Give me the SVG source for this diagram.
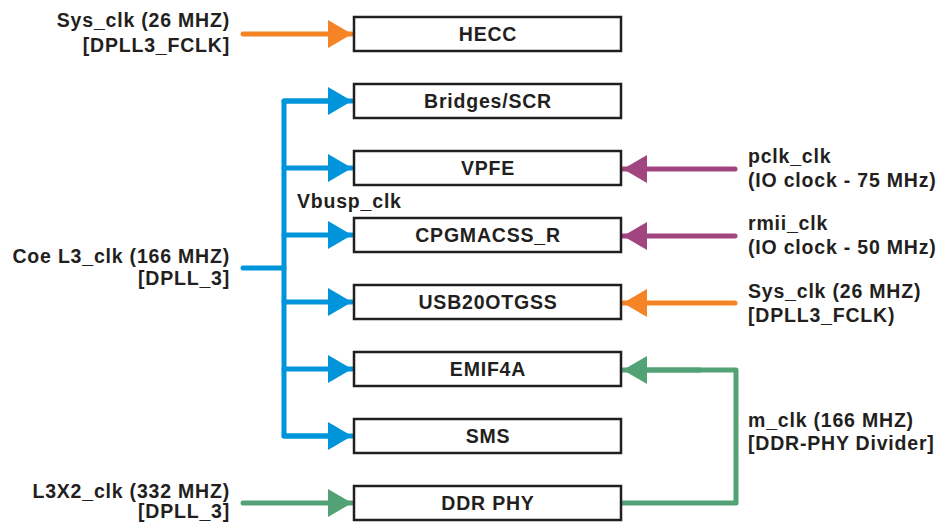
<svg xmlns="http://www.w3.org/2000/svg" width="940" height="523" viewBox="0 0 940 523">
<style>
text{font-family:"Liberation Sans",Arial,sans-serif;font-weight:bold;font-size:19.5px;letter-spacing:0.8px;fill:#231f20}
.box{fill:#fff;stroke:#231f20;stroke-width:2.5}
.lbl{text-anchor:middle}
.r{text-anchor:end}
.ln{fill:none;stroke-width:5;stroke-linecap:round;stroke-linejoin:round}
.blue{stroke:#0095da}
.orange{stroke:#f58426}
.purple{stroke:#a2447f}
.green{stroke:#52a275}
</style>
<defs>
<marker id="ab" markerUnits="userSpaceOnUse" markerWidth="24" markerHeight="28" refX="24" refY="14" orient="auto"><path d="M0,0 L24,14 L0,28 Z" fill="#0095da"/></marker>
<marker id="ao" markerUnits="userSpaceOnUse" markerWidth="24" markerHeight="28" refX="24" refY="14" orient="auto"><path d="M0,0 L24,14 L0,28 Z" fill="#f58426"/></marker>
<marker id="ap" markerUnits="userSpaceOnUse" markerWidth="24" markerHeight="28" refX="24" refY="14" orient="auto"><path d="M0,0 L24,14 L0,28 Z" fill="#a2447f"/></marker>
<marker id="ag" markerUnits="userSpaceOnUse" markerWidth="24" markerHeight="28" refX="24" refY="14" orient="auto"><path d="M0,0 L24,14 L0,28 Z" fill="#52a275"/></marker>
</defs>

<g id="connectors">
<line class="ln orange" x1="243" y1="34" x2="352" y2="34" marker-end="url(#ao)"/>
<line class="ln blue" x1="243" y1="268" x2="284" y2="268"/>
<path class="ln blue" d="M330,101 H284 V436 H330"/>
<line class="ln blue" x1="284" y1="101" x2="352" y2="101" marker-end="url(#ab)"/>
<line class="ln blue" x1="284" y1="168" x2="352" y2="168" marker-end="url(#ab)"/>
<line class="ln blue" x1="284" y1="235" x2="352" y2="235" marker-end="url(#ab)"/>
<line class="ln blue" x1="284" y1="302" x2="352" y2="302" marker-end="url(#ab)"/>
<line class="ln blue" x1="284" y1="369" x2="352" y2="369" marker-end="url(#ab)"/>
<line class="ln blue" x1="284" y1="436" x2="352" y2="436" marker-end="url(#ab)"/>
<line class="ln purple" x1="735" y1="169" x2="623" y2="169" marker-end="url(#ap)"/>
<line class="ln purple" x1="735" y1="236" x2="623" y2="236" marker-end="url(#ap)"/>
<line class="ln orange" x1="735" y1="303" x2="623" y2="303" marker-end="url(#ao)"/>
<line class="ln green" x1="243" y1="503" x2="352" y2="503" marker-end="url(#ag)"/>
<path class="ln green" d="M622,503 H736 V370 H640"/>
<line class="ln green" x1="700" y1="370" x2="623" y2="370" marker-end="url(#ag)"/>
</g>

<g id="hecc"><rect class="box" x="354" y="17" width="267" height="34"/><text class="lbl" x="488" y="41">HECC</text></g>
<g id="bridges"><rect class="box" x="354" y="84" width="267" height="34"/><text class="lbl" x="488" y="108">Bridges/SCR</text></g>
<g id="vpfe"><rect class="box" x="354" y="151" width="267" height="34"/><text class="lbl" x="488" y="175">VPFE</text></g>
<g id="cpgmacss"><rect class="box" x="354" y="218" width="267" height="34"/><text class="lbl" x="488" y="242">CPGMACSS_R</text></g>
<g id="usb"><rect class="box" x="354" y="285" width="267" height="34"/><text class="lbl" x="488" y="309">USB20OTGSS</text></g>
<g id="emif"><rect class="box" x="354" y="352" width="267" height="34"/><text class="lbl" x="488" y="376">EMIF4A</text></g>
<g id="sms"><rect class="box" x="354" y="419" width="267" height="34"/><text class="lbl" x="488" y="443">SMS</text></g>
<g id="ddrphy"><rect class="box" x="354" y="486" width="267" height="34"/><text class="lbl" x="488" y="510">DDR PHY</text></g>

<g id="labels">
<text class="r" x="230" y="27">Sys_clk (26 MHZ)</text>
<text class="r" x="230" y="52">[DPLL3_FCLK]</text>
<text class="r" x="230" y="263">Coe L3_clk (166 MHZ)</text>
<text class="r" x="230" y="285">[DPLL_3]</text>
<text class="r" x="230" y="498">L3X2_clk (332 MHZ)</text>
<text class="r" x="230" y="518">[DPLL_3]</text>
<text x="297" y="208">Vbusp_clk</text>
<text x="748" y="163">pclk_clk</text>
<text x="748" y="187">(IO clock - 75 MHz)</text>
<text x="748" y="230">rmii_clk</text>
<text x="748" y="254">(IO clock - 50 MHz)</text>
<text x="748" y="298">Sys_clk (26 MHZ)</text>
<text x="748" y="322">[DPLL3_FCLK)</text>
<text x="748" y="427">m_clk (166 MHZ)</text>
<text x="748" y="450">[DDR-PHY Divider]</text>
</g>
</svg>
